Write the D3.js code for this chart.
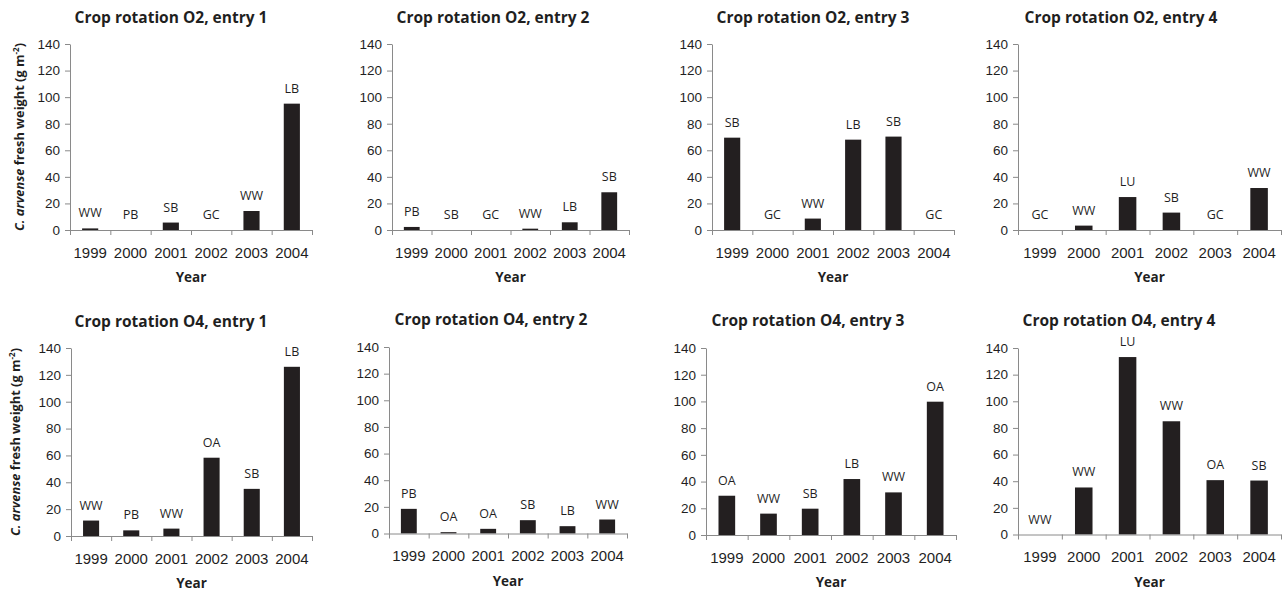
<!DOCTYPE html>
<html>
<head>
<meta charset="utf-8">
<script src="https://cdn.jsdelivr.net/npm/d3@7"></script>
<style>
  html, body { margin: 0; padding: 0; background: #fff; }
  svg { display: block; font-family: "Open Sans", "Noto Sans", sans-serif; }
</style>
</head>
<body>
<script>
// ---------------- data ----------------
const years = ["1999", "2000", "2001", "2002", "2003", "2004"];
const yTicks = [0, 20, 40, 60, 80, 100, 120, 140];

const titles = [
  "Crop rotation O2, entry 1", "Crop rotation O2, entry 2",
  "Crop rotation O2, entry 3", "Crop rotation O2, entry 4",
  "Crop rotation O4, entry 1", "Crop rotation O4, entry 2",
  "Crop rotation O4, entry 3", "Crop rotation O4, entry 4"
];

const o2e1 = [1.2, 0, 5.6, 0, 14.3, 95.1];
const o2e2 = [2.3, 0, 0, 1.0, 5.8, 28.4];
const o2e3 = [69.5, 0, 8.6, 68.0, 70.3, 0];
const o2e4 = [0, 3.3, 24.8, 13.1, 0, 31.6];
const o4e1 = [11.5, 4.2, 5.5, 58.3, 35.1, 126.0];
const o4e2 = [18.5, 1.0, 3.5, 10.0, 5.5, 10.5];
const o4e3 = [29.4, 16.0, 19.7, 41.9, 31.9, 99.8];
const o4e4 = [0, 35.3, 133.2, 85.0, 40.8, 40.5];

const crops_o2e1 = ["WW", "PB", "SB", "GC", "WW", "LB"];
const crops_o2e2 = ["PB", "SB", "GC", "WW", "LB", "SB"];
const crops_o2e3 = ["SB", "GC", "WW", "LB", "SB", "GC"];
const crops_o2e4 = ["GC", "WW", "LU", "SB", "GC", "WW"];
const crops_o4e1 = ["WW", "PB", "WW", "OA", "SB", "LB"];
const crops_o4e2 = ["PB", "OA", "OA", "SB", "LB", "WW"];
const crops_o4e3 = ["OA", "WW", "SB", "LB", "WW", "OA"];
const crops_o4e4 = ["WW", "WW", "LU", "WW", "OA", "SB"];

const seriesValues = [o2e1, o2e2, o2e3, o2e4, o4e1, o4e2, o4e3, o4e4];
const seriesCrops = [crops_o2e1, crops_o2e2, crops_o2e3, crops_o2e4,
                     crops_o4e1, crops_o4e2, crops_o4e3, crops_o4e4];

// ---------------- layout ----------------
const layout = [
  { x0: 70,   x1: 312,  yTop: 44,  yBot: 230,   tx: 171,  ty: 23,  ylx: 24 },
  { x0: 392,  x1: 629,  yTop: 44,  yBot: 230,   tx: 493,  ty: 23 },
  { x0: 712,  x1: 954,  yTop: 44,  yBot: 230,   tx: 813,  ty: 23 },
  { x0: 1018, x1: 1281, yTop: 44,  yBot: 230,   tx: 1121, ty: 23 },
  { x0: 71,   x1: 312,  yTop: 348, yBot: 536,   tx: 171,  ty: 327, ylx: 20 },
  { x0: 389,  x1: 627,  yTop: 347, yBot: 533.5, tx: 491,  ty: 325 },
  { x0: 706,  x1: 956,  yTop: 348, yBot: 535,   tx: 808,  ty: 326 },
  { x0: 1018, x1: 1281, yTop: 348, yBot: 534.5, tx: 1119, ty: 326 }
];

const axisColor = "#8a8a8a";
const textColor = "#1f1f1f";
const barColor = "#231f20";

const svg = d3.select("body").append("svg")
  .attr("width", 1287).attr("height", 591);

layout.forEach((L, i) => {
  const values = seriesValues[i];
  const crops = seriesCrops[i];
  const g = svg.append("g");

  const x = d3.scaleBand().domain(years).range([L.x0, L.x1]).padding(0);
  const xi = d3.scaleLinear().domain([0, years.length]).range([L.x0, L.x1]);
  const y = d3.scaleLinear().domain([0, 140]).range([L.yBot, L.yTop]);

  // title
  g.append("text")
    .attr("x", L.tx).attr("y", L.ty)
    .attr("text-anchor", "middle")
    .attr("font-weight", "bold")
    .attr("font-size", 15.5)
    .attr("fill", textColor)
    .text(titles[i]);

  // bars
  const bw = x.bandwidth() * 0.4;
  g.selectAll("rect.bar").data(values).join("rect")
    .attr("class", "bar")
    .attr("x", (d, j) => x(years[j]) + (x.bandwidth() - bw) / 2)
    .attr("y", d => y(d))
    .attr("width", bw)
    .attr("height", d => y(0) - y(d))
    .attr("fill", barColor);

  // crop labels
  g.selectAll("text.crop").data(values).join("text")
    .attr("class", "crop")
    .attr("x", (d, j) => x(years[j]) + x.bandwidth() / 2)
    .attr("y", d => y(d) - 11)
    .attr("text-anchor", "middle")
    .attr("font-size", 12.5)
    .attr("fill", textColor)
    .text((d, j) => crops[j]);

  // y axis
  const ya = g.append("g")
    .attr("transform", `translate(${L.x0},0)`)
    .call(d3.axisLeft(y).tickValues(yTicks).tickSize(5).tickSizeOuter(0).tickPadding(5));
  ya.selectAll("text").attr("font-size", 13.5).attr("fill", textColor).attr("font-family", null);
  ya.selectAll("line").attr("stroke", axisColor);
  ya.select(".domain").attr("stroke", axisColor);

  // x axis: boundary ticks
  const xa = g.append("g")
    .attr("transform", `translate(0,${L.yBot})`)
    .call(d3.axisBottom(xi).tickValues(d3.range(years.length + 1)).tickSize(5).tickSizeOuter(0).tickFormat(""));
  xa.selectAll("line").attr("stroke", axisColor);
  xa.select(".domain").attr("stroke", axisColor);

  // x axis: year labels
  const xl = g.append("g")
    .attr("transform", `translate(0,${L.yBot})`)
    .call(d3.axisBottom(x).tickSize(0).tickSizeOuter(0));
  xl.select(".domain").remove();
  xl.selectAll("text")
    .attr("y", 27.5).attr("dy", null)
    .attr("font-size", 15).attr("fill", textColor).attr("font-family", null);

  // x title
  g.append("text")
    .attr("x", (L.x0 + L.x1) / 2).attr("y", L.yBot + 52)
    .attr("text-anchor", "middle")
    .attr("font-weight", "bold")
    .attr("font-size", 13.5)
    .attr("fill", textColor)
    .text("Year");

  // y title
  if (L.ylx) {
    const cy = (L.yTop + L.yBot) / 2;
    const t = g.append("text")
      .attr("transform", `translate(${L.ylx},${cy}) rotate(-90)`)
      .attr("text-anchor", "middle")
      .attr("font-weight", "bold")
      .attr("font-size", 12.8)
      .attr("fill", textColor);
    t.append("tspan").attr("font-style", "italic").text("C. arvense");
    t.append("tspan").text(" fresh weight (g m");
    t.append("tspan").attr("font-size", 8).attr("dy", -5).text("-2");
    t.append("tspan").attr("dy", 5).text(")");
  }
});
</script>
</body>
</html>
